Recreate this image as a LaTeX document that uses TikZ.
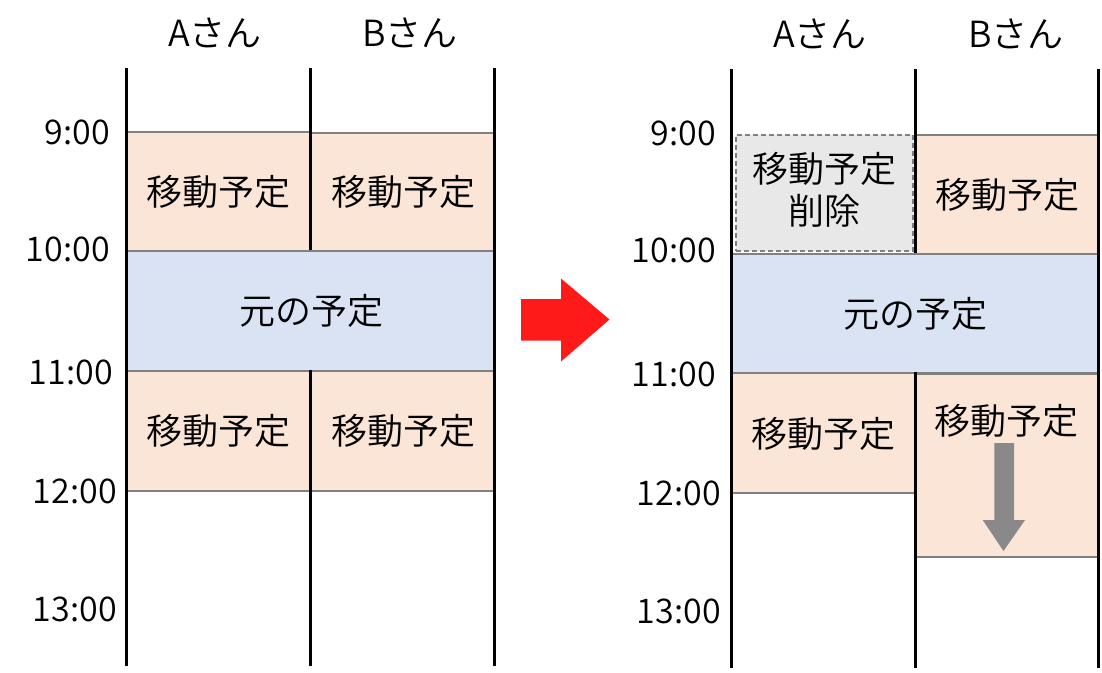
\documentclass[tikz,border=0pt]{standalone}
\usepackage{fontspec}
\setmainfont{Noto Sans CJK JP}[UprightFont={* DemiLight}]
\usetikzlibrary{shapes.arrows}
\definecolor{peach}{HTML}{FBE5D6}
\definecolor{bluebg}{HTML}{DAE3F3}
\definecolor{delgray}{HTML}{E8E8E8}
\definecolor{bordergray}{HTML}{808080}
\definecolor{arrowred}{HTML}{FF1A1A}
\definecolor{arrowgray}{HTML}{898989}
\tikzset{
  txt/.style={font=\fontsize{36}{42}\selectfont, inner sep=0pt},
  timelbl/.style={font=\fontsize{34}{40}\selectfont, inner sep=0pt, anchor=east},
  slot/.style={draw=bordergray, line width=2pt, inner sep=0pt, anchor=north west},
  peachbox/.style={slot, fill=peach},
  bluebox/.style={slot, fill=bluebg},
  delbox/.style={slot, fill=delgray, dash pattern=on 5pt off 3pt, line width=2pt},
  axis/.style={line width=3pt, black},
}
\begin{document}
\begin{tikzpicture}[x=1pt,y=-1pt]
\useasboundingbox (0,0) rectangle (1102,672);
% ---------------- left panel ----------------
\node[txt] (hA1) at (215,33) {Aさん};
\node[txt] (hB1) at (410,33) {Bさん};
\node[peachbox, minimum width=183pt, minimum height=119pt] (a91) at (126,131) {};
\node[txt] (a91t) at (a91.center) {移動予定};
\node[peachbox, minimum width=184pt, minimum height=118pt] (b91) at (310,132) {};
\node[txt] (b91t) at (b91.center) {移動予定};
\node[peachbox, minimum width=183pt, minimum height=120pt] (a111) at (126,370) {};
\node[txt] (a111t) at (a111.center) {移動予定};
\node[peachbox, minimum width=184pt, minimum height=120pt] (b111) at (310,370) {};
\node[txt] (b111t) at (b111.center) {移動予定};
\node[bluebox, minimum width=368pt, minimum height=120pt] (org1) at (126,250) {};
\node[txt] (org1t) at (org1.center) {元の予定};
\draw[axis] (126,68) -- (126,666);
\draw[axis] (494,68) -- (494,666);
\draw[axis] (310,68) -- (310,250);
\draw[axis] (310,370) -- (310,666);
\node[timelbl] (t91) at (110,132) {9:00};
\node[timelbl] (t101) at (110,249) {10:00};
\node[timelbl] (t111) at (113,372) {11:00};
\node[timelbl] (t121) at (117,491) {12:00};
\node[timelbl] (t131) at (117,609) {13:00};
% ---------------- red arrow ----------------
\fill[arrowred] (521,299) -- (561,299) -- (561,278.5) -- (609.5,319.5) -- (561,361.5) -- (561,340.5) -- (521,340.5) -- cycle;
% ---------------- right panel ----------------
\node[txt] (hA2) at (820,34) {Aさん};
\node[txt] (hB2) at (1016,34) {Bさん};
\node[delbox, minimum width=177pt, minimum height=116pt] (a92) at (734.5,134) {};
\node[txt, align=center, font=\fontsize{36}{42}\selectfont] (a92t) at ([yshift=3pt]a92.center) {移動予定\\削除};
\node[peachbox, minimum width=183pt, minimum height=119pt] (b92) at (915,134) {};
\node[txt] (b92t) at (b92.center) {移動予定};
\node[peachbox, minimum width=185pt, minimum height=120pt] (a112) at (730,372) {};
\node[txt] (a112t) at ([yshift=-1pt]a112.center) {移動予定};
\node[peachbox, minimum width=183pt, minimum height=183pt] (b112) at (915,373) {};
\node[txt] (b112t) at (1006,421) {移動予定};
\node[bluebox, minimum width=368pt, minimum height=119pt] (org2) at (730,253) {};
\node[txt] (org2t) at (org2.center) {元の予定};
\draw[axis] (731,69) -- (731,668);
\draw[axis] (1098.5,69) -- (1098.5,668);
\draw[axis] (915,69) -- (915,253);
\draw[axis] (915,372) -- (915,668);
\fill[arrowgray] (994.3,443) -- (1014,443) -- (1014,520) -- (1025,520) -- (1003.5,551) -- (982.7,520) -- (994.3,520) -- cycle;
\node[timelbl] (t92) at (716,133) {9:00};
\node[timelbl] (t102) at (716,250) {10:00};
\node[timelbl] (t112) at (716,374) {11:00};
\node[timelbl] (t122) at (721,493) {12:00};
\node[timelbl] (t132) at (721,611) {13:00};
\end{tikzpicture}
\end{document}
